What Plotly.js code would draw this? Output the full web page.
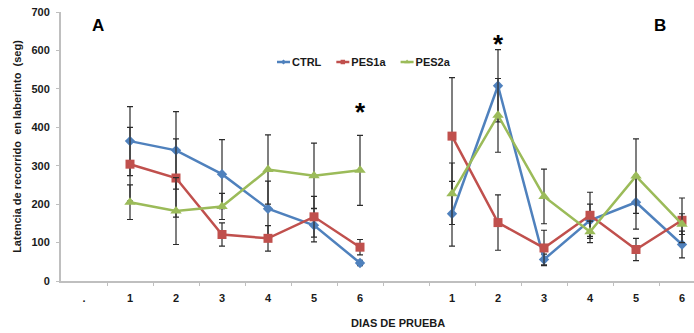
<!DOCTYPE html>
<html>
<head>
<meta charset="utf-8">
<script src="https://cdn.plot.ly/plotly-3.0.1.min.js"></script>
<style>html,body{margin:0;padding:0;background:#fff;overflow:hidden}#chart{width:694px;height:333px}</style>
</head>
<body>
<div id="chart"></div>
<script>
// Category labels along the x axis (A block, gap, B block)
const xLabels = [".", "1", "2", "3", "4", "5", "6", "", "1", "2", "3", "4", "5", "6"];
const daysA = ["1", "2", "3", "4", "5", "6"];
const daysB = ["1", "2", "3", "4", "5", "6"];

const seriesNames = ["CTRL", "PES1a", "PES2a"];

// Means (seg)
const ctrlA  = [364, 340, 278, 188, 145, 47];
const ctrlB  = [175, 508, 56, 158, 205, 95];
const pes1aA = [304, 268, 121, 111, 167, 88];
const pes1aB = [377, 152, 86, 171, 82, 158];
const pes2aA = [205, 182, 194, 290, 274, 288];
const pes2aB = [227, 431, 220, 128, 273, 148];

// Error (±)
const ctrlErrA  = [90, 101, 90, 72, 43, 7];
const ctrlErrB  = [84, 94, 14, 42, 70, 35];
const pes1aErrA = [96, 102, 30, 33, 53, 20];
const pes1aErrB = [152, 72, 46, 60, 29, 58];
const pes2aErrA = [45, 87, 34, 90, 85, 91];
const pes2aErrB = [80, 96, 71, 28, 97, 27];

// Significance marks
const sigLabels = ["*", "*"];
const sigDays = ["6", "2"];
const sigBlocks = ["A", "B"];
const sigValues = [451, 626];

// positions of blocks in the category list
const startA = 1;
const startB = 8;
const gapIdx = 7;

const xA = daysA.map((d, i) => startA + i);
const xB = daysB.map((d, i) => startB + i);
const xAll = xA.concat([gapIdx], xB);

function join(a, b) { return a.concat([null], b); }

const colors = ["#4F81BD", "#C0504D", "#9BBB59"];
const symbols = ["diamond", "square", "triangle-up"];
const sizes = [8, 9, 10];
const means = [join(ctrlA, ctrlB), join(pes1aA, pes1aB), join(pes2aA, pes2aB)];
const errs = [join(ctrlErrA, ctrlErrB), join(pes1aErrA, pes1aErrB), join(pes2aErrA, pes2aErrB)];

const FONT = "Liberation Sans, Arial, sans-serif";
const TXT = "#1a1a1a";

const traces = seriesNames.map((name, k) => ({
  type: "scatter",
  mode: "lines+markers",
  name: name,
  x: xAll,
  y: means[k],
  connectgaps: false,
  line: {color: colors[k], width: 2.5},
  marker: {color: colors[k], symbol: symbols[k], size: sizes[k]},
  error_y: {type: "data", array: errs[k], visible: true, color: "#2b2b2b", thickness: 1.2, width: 3},
  xaxis: "x", yaxis: "y"
}));

// invisible trace on the overlay axis that carries boundary ticks
traces.push({type: "scatter", x: xAll, y: means[0], xaxis: "x2", yaxis: "y",
  mode: "markers", marker: {opacity: 0}, showlegend: false, hoverinfo: "skip"});

const boundaries = xLabels.slice(1).map((l, i) => i + 0.5);

const annotations = [
  {text: "<b>A</b>", xref: "paper", yref: "paper", x: (98 - 61) / 633, y: (281 - 25) / 269,
   showarrow: false, font: {family: FONT, size: 17, color: "#000"}, xanchor: "center", yanchor: "middle"},
  {text: "<b>B</b>", xref: "paper", yref: "paper", x: (660 - 61) / 633, y: (281 - 25) / 269,
   showarrow: false, font: {family: FONT, size: 17, color: "#000"}, xanchor: "center", yanchor: "middle"},
  {text: "<b>DIAS DE PRUEBA</b>", xref: "paper", yref: "paper", x: (398 - 61) / 633, y: -(323 - 281) / 269,
   showarrow: false, font: {family: FONT, size: 11, color: TXT}, xanchor: "center", yanchor: "middle"}
];
sigLabels.forEach((s, i) => {
  const x = (sigBlocks[i] === "A" ? startA : startB) + (sigBlocks[i] === "A" ? daysA : daysB).indexOf(sigDays[i]);
  annotations.push({text: "<b>" + s + "</b>", x: x, y: sigValues[i], xref: "x", yref: "y",
    showarrow: false, font: {family: FONT, size: 26, color: "#000"}, xanchor: "center", yanchor: "middle", yshift: -4});
});

const xr = [-0.5, -0.5 + (694 - 61) / 46];

const layout = {
  width: 694, height: 333,
  margin: {l: 61, r: 0, t: 12, b: 52},
  paper_bgcolor: "#fff", plot_bgcolor: "#fff",
  showlegend: true,
  legend: {orientation: "h", x: (364 - 61) / 633, y: (281 - 62) / 269, xanchor: "center", yanchor: "middle",
    font: {family: FONT, size: 11, color: TXT, weight: "bold"}, itemwidth: 30, tracegroupgap: 0,
    bgcolor: "rgba(0,0,0,0)"},
  xaxis: {range: xr, tickmode: "array", tickvals: xLabels.map((l, i) => i), ticktext: xLabels,
    ticks: "", showline: true, linecolor: "#bfbfbf", linewidth: 2, showgrid: false, zeroline: false,
    tickfont: {family: FONT, size: 11, color: TXT, weight: "bold"}, ticklabelstandoff: 6, fixedrange: true},
  xaxis2: {overlaying: "x", matches: "x", range: xr, side: "bottom", tickmode: "array", tickvals: boundaries,
    ticks: "outside", ticklen: 4, tickcolor: "#bfbfbf", tickwidth: 1, showticklabels: false,
    showline: false, showgrid: false, zeroline: false},
  yaxis: {range: [0, 700], tickmode: "linear", tick0: 0, dtick: 100, ticks: "outside", ticklen: 3,
    tickcolor: "#bfbfbf", showline: true, linecolor: "#bfbfbf", linewidth: 2, showgrid: false, zeroline: false,
    tickfont: {family: FONT, size: 11, color: TXT, weight: "bold"}, ticklabelstandoff: 4,
    title: {text: "<b>Latencia de recorrido  en laberinto  (seg)</b>", font: {family: FONT, size: 11, color: TXT}, standoff: 8}},
  annotations: annotations
};

Plotly.newPlot("chart", traces, layout, {displayModeBar: false, staticPlot: true}).then(gd => {
  // Compact, Excel-like legend keys: short line with a small marker
  try {
    const legend = gd.querySelector("g.legend");
    const sb = legend.querySelector(".scrollbox");
    if (sb) sb.removeAttribute("clip-path");
    const items = Array.from(legend.querySelectorAll("g.traces"));
    const symStart = 25, symLen = 13, gapAfter = 15;
    let xs = [], cur = 0;
    items.forEach((it, i) => {
      it.querySelectorAll(".legendlines path").forEach(p => p.setAttribute("d", "M" + symStart + ",0h" + symLen));
      it.querySelectorAll(".legendsymbols path").forEach(p =>
        p.setAttribute("transform", "translate(" + (symStart + symLen / 2) + ",0) scale(0.5)"));
      const t = it.querySelector("text.legendtext");
      const w = t.getComputedTextLength();
      xs.push(cur);
      cur = cur + 40 + w + gapAfter - symStart;
    });
    const ys = items.map(it => {
      const m = /translate\(\s*([-\d.]+)[ ,]+([-\d.]+)/.exec(it.getAttribute("transform") || "");
      return m ? parseFloat(m[2]) : 0;
    });
    items.forEach((it, i) => it.setAttribute("transform", "translate(" + xs[i] + "," + ys[i] + ")"));
    const L = items[0].querySelector("text.legendtext").getBoundingClientRect().left;
    const delta = 292 - L;
    items.forEach((it, i) => it.setAttribute("transform", "translate(" + (xs[i] + delta) + "," + ys[i] + ")"));
  } catch (e) {}
});
</script>
</body>
</html>
